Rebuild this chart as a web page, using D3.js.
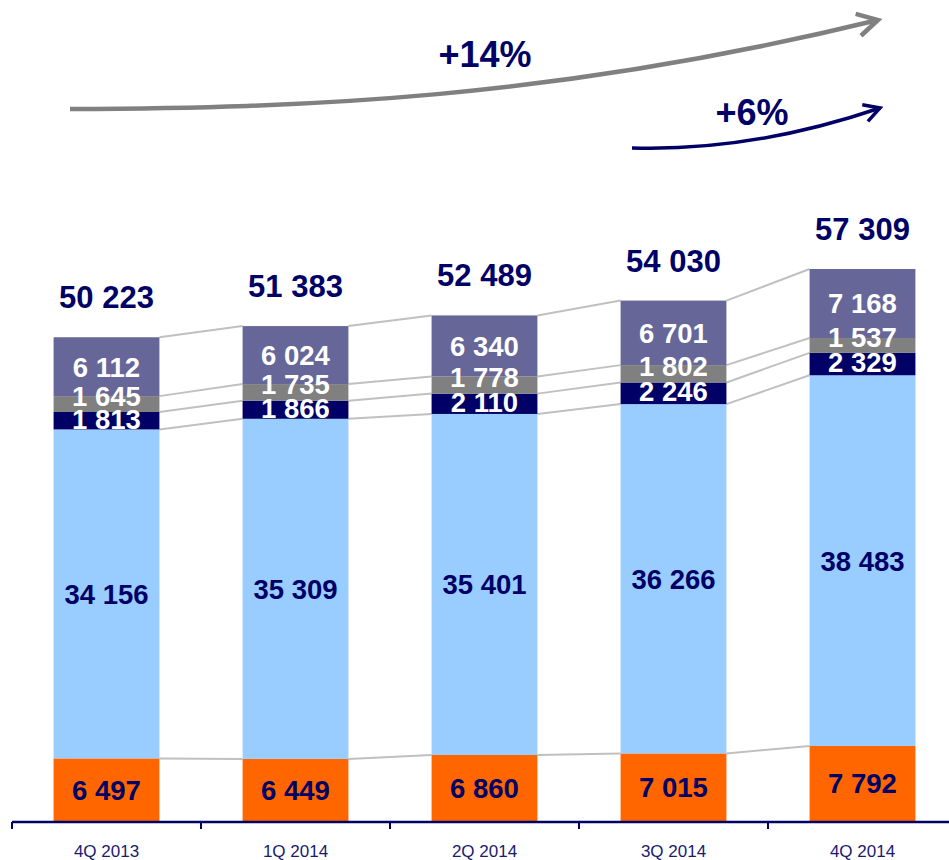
<!DOCTYPE html>
<html>
<head>
<script src="https://d3js.org/d3.v7.min.js"></script>
<style>
  body { margin: 0; background: #fff; }
  text { font-family: Arial, "Liberation Sans", sans-serif; }
</style>
</head>
<body>
<script>
var width = 949;
var height = 860;

// data
var quarters = ["4Q 2013", "1Q 2014", "2Q 2014", "3Q 2014", "4Q 2014"];
var orange = [6497, 6449, 6860, 7015, 7792];
var lightBlue = [34156, 35309, 35401, 36266, 38483];
var navy = [1813, 1866, 2110, 2246, 2329];
var grey = [1645, 1735, 1778, 1802, 1537];
var purple = [6112, 6024, 6340, 6701, 7168];
var totals = [50223, 51383, 52489, 54030, 57309];

var keys = ["orange", "lightBlue", "navy", "grey", "purple"];
var colors = { orange: "#ff6600", lightBlue: "#99ccff", navy: "#000066", grey: "#808080", purple: "#666699" };
var labelColors = { orange: "#000066", lightBlue: "#000066", navy: "#fff", grey: "#fff", purple: "#fff" };
var labelShift = { orange: 0, lightBlue: 0, navy: -2, grey: -8, purple: 0 };

var rows = quarters.map(function (q, i) {
  return { q: q, orange: orange[i], lightBlue: lightBlue[i], navy: navy[i], grey: grey[i], purple: purple[i] };
});

var svg = d3.select("body").append("svg")
  .attr("width", width)
  .attr("height", height);

var x = d3.scaleBand()
  .domain(quarters)
  .range([12, 957])
  .paddingInner(0.44)
  .paddingOuter(0.22);

var y = d3.scaleLinear()
  .domain([0, 57309])
  .range([821, 269]);

var series = d3.stack().keys(keys)(rows);
var bw = x.bandwidth();

// connector lines between bars
var links = [];
series.forEach(function (s) {
  for (var i = 0; i < s.length - 1; i++) {
    links.push({ x1: x(quarters[i]) + bw, y1: y(s[i][1]), x2: x(quarters[i + 1]), y2: y(s[i + 1][1]) });
  }
});
svg.append("g").selectAll("line")
  .data(links)
  .enter().append("line")
  .attr("x1", function (d) { return d.x1; })
  .attr("y1", function (d) { return d.y1; })
  .attr("x2", function (d) { return d.x2; })
  .attr("y2", function (d) { return d.y2; })
  .attr("stroke", "#c0c0c0")
  .attr("stroke-width", 2);

// bars
var layer = svg.append("g").selectAll("g")
  .data(series)
  .enter().append("g")
  .attr("fill", function (d) { return colors[d.key]; });

layer.selectAll("rect")
  .data(function (d) { return d; })
  .enter().append("rect")
  .attr("x", function (d) { return x(d.data.q); })
  .attr("y", function (d) { return y(d[1]); })
  .attr("width", bw)
  .attr("height", function (d) { return y(d[0]) - y(d[1]); });

// segment labels
var fmt = function (v) { return d3.format(",")(v).replace(/,/g, " "); };

series.forEach(function (s) {
  svg.append("g").selectAll("text")
    .data(s)
    .enter().append("text")
    .attr("x", function (d) { return x(d.data.q) + bw / 2; })
    .attr("y", function (d) { return (y(d[0]) + y(d[1])) / 2 + labelShift[s.key]; })
    .attr("dy", "0.36em")
    .attr("text-anchor", "middle")
    .attr("font-size", 27.5)
    .attr("font-weight", "bold")
    .attr("fill", labelColors[s.key])
    .text(function (d) { return fmt(d[1] - d[0]); });
});

// totals
svg.append("g").selectAll("text")
  .data(totals)
  .enter().append("text")
  .attr("x", function (d, i) { return x(quarters[i]) + bw / 2; })
  .attr("y", function (d) { return y(d) - 29; })
  .attr("text-anchor", "middle")
  .attr("font-size", 31)
  .attr("font-weight", "bold")
  .attr("fill", "#000066")
  .text(function (d) { return fmt(d); });

// axis
var axis = svg.append("g").attr("transform", "translate(0,822)");
axis.append("line")
  .attr("x1", 12).attr("x2", 949)
  .attr("stroke", "#000066").attr("stroke-width", 2.5);
axis.selectAll(".tk")
  .data(quarters)
  .enter().append("line")
  .attr("x1", function (d) { return x(d) - x.step() * 0.22; })
  .attr("x2", function (d) { return x(d) - x.step() * 0.22; })
  .attr("y1", 0).attr("y2", 7)
  .attr("stroke", "#000066").attr("stroke-width", 2);
axis.selectAll(".lb")
  .data(quarters)
  .enter().append("text")
  .attr("x", function (d) { return x(d) + bw / 2; })
  .attr("y", 35)
  .attr("text-anchor", "middle")
  .attr("font-size", 17)
  .attr("fill", "#1a1a70")
  .text(function (d) { return d; });

// growth arrows
var defs = svg.append("defs");
function marker(id, col) {
  defs.append("marker")
    .attr("id", id)
    .attr("viewBox", "0 0 12 12")
    .attr("refX", 10).attr("refY", 6)
    .attr("markerWidth", 6).attr("markerHeight", 6)
    .attr("markerUnits", "strokeWidth")
    .attr("orient", "auto")
    .append("path")
    .attr("d", "M1,1 L10,6 L1,11")
    .attr("fill", "none")
    .attr("stroke", col)
    .attr("stroke-width", 2);
}
marker("ag", "#808080");
marker("an", "#000066");

svg.append("path")
  .attr("d", "M70,109 C300,108 550,100 878,20")
  .attr("fill", "none")
  .attr("stroke", "#808080")
  .attr("stroke-width", 4.5)
  .attr("marker-end", "url(#ag)");

svg.append("path")
  .attr("d", "M632,148 C700,150 780,142 880,108")
  .attr("fill", "none")
  .attr("stroke", "#000066")
  .attr("stroke-width", 3.5)
  .attr("marker-end", "url(#an)");

svg.append("text")
  .attr("x", 485).attr("y", 67)
  .attr("text-anchor", "middle")
  .attr("font-size", 36).attr("font-weight", "bold")
  .attr("fill", "#000066")
  .text("+14%");

svg.append("text")
  .attr("x", 752).attr("y", 125)
  .attr("text-anchor", "middle")
  .attr("font-size", 36).attr("font-weight", "bold")
  .attr("fill", "#000066")
  .text("+6%");
</script>
</body>
</html>
